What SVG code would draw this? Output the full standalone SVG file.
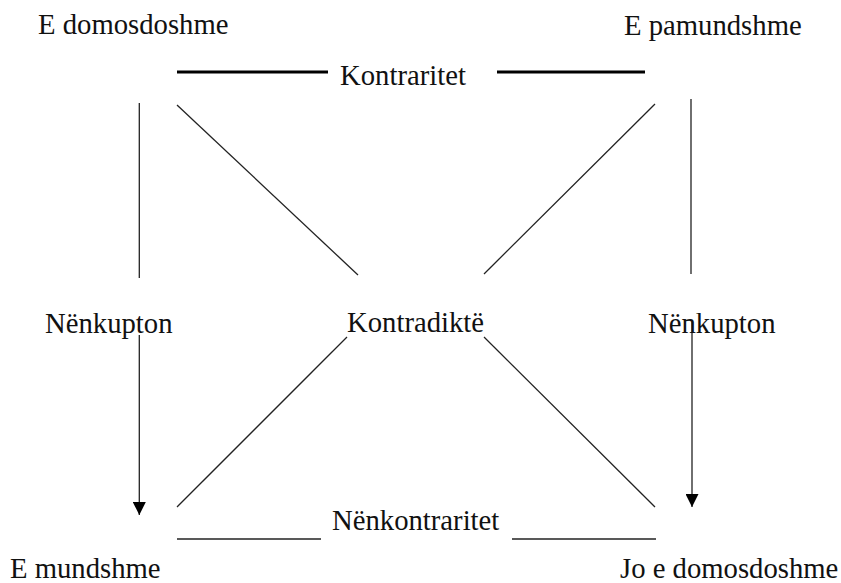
<svg xmlns="http://www.w3.org/2000/svg" width="841" height="583" viewBox="0 0 841 583">
<style>
text{font-family:'Liberation Serif','Times New Roman','DejaVu Serif',serif;font-size:28.7px;fill:#111}
.thin{stroke:#222;stroke-width:1.3;fill:none}
.thick{stroke:#000;stroke-width:3.2;fill:none}
</style>
<defs>
<marker id="arr" viewBox="0 0 10 10" refX="10" refY="5" markerWidth="14" markerHeight="13" markerUnits="userSpaceOnUse" orient="auto">
<path d="M0,0 L10,5 L0,10 Z" fill="#000"/>
</marker>
</defs>
<rect width="841" height="583" fill="#fff"/>
<g id="connectors">
<line class="thick" x1="177" y1="72" x2="328" y2="72"/>
<line class="thick" x1="497" y1="72" x2="645" y2="72"/>
<line class="thin" x1="139.3" y1="103" x2="139.3" y2="278"/>
<line class="thin" x1="691" y1="99" x2="691" y2="274"/>
<line class="thin" x1="177" y1="105" x2="358" y2="275"/>
<line class="thin" x1="655" y1="104" x2="484" y2="274"/>
<line class="thin" x1="347" y1="337" x2="177" y2="507"/>
<line class="thin" x1="484" y1="337" x2="655" y2="507"/>
<line class="thin" x1="139.3" y1="335" x2="139.3" y2="515" marker-end="url(#arr)"/>
<line class="thin" x1="692" y1="322" x2="692" y2="507" marker-end="url(#arr)"/>
<line class="thin" x1="177" y1="539" x2="321" y2="539"/>
<line class="thin" x1="512" y1="539" x2="656" y2="539"/>
</g>
<g id="n-domosdoshme"><text x="38" y="34">E domosdoshme</text></g>
<g id="n-pamundshme"><text x="624" y="35">E pamundshme</text></g>
<g id="l-kontraritet"><text x="340" y="85">Kontraritet</text></g>
<g id="l-nenkupton-left"><text x="45" y="333">Nënkupton</text></g>
<g id="l-kontradikte"><text x="347" y="332">Kontradiktë</text></g>
<g id="l-nenkupton-right"><text x="648" y="333">Nënkupton</text></g>
<g id="l-nenkontraritet"><text x="332" y="530">Nënkontraritet</text></g>
<g id="n-mundshme"><text x="10" y="578">E mundshme</text></g>
<g id="n-jo-domosdoshme"><text x="620" y="578">Jo e domosdoshme</text></g>
</svg>
